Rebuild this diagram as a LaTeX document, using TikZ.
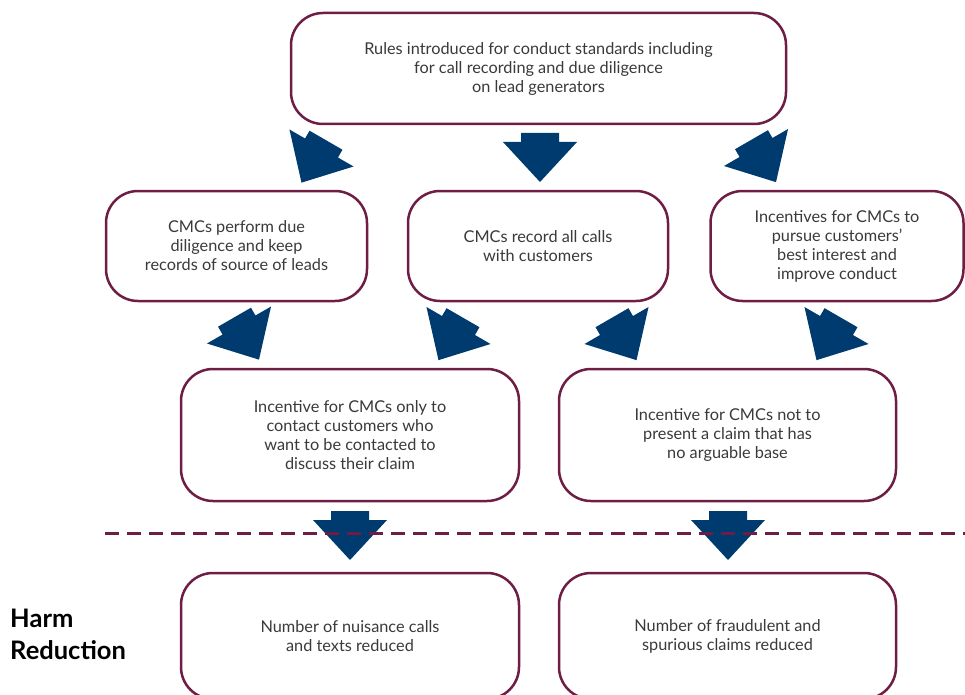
\documentclass[tikz,border=0pt]{standalone}
\usepackage{fontspec}
\setmainfont{Lato}
\definecolor{maroon}{HTML}{6E1E45}
\definecolor{navy}{HTML}{003B6F}
\definecolor{txt}{HTML}{3A3A3A}
\tikzset{
  box/.style={draw=maroon, line width=2.5pt, rounded corners=32pt, fill=white,
    align=center, text=txt, font=\fontsize{16.3}{19}\selectfont, inner sep=0pt},
  blockarrow/.pic={
    \fill[navy] (-19,-9) -- (19,-9) -- (19,0) -- (37,0) -- (0,40) -- (-37,0) -- (-19,0) -- cycle;
  }
}
\begin{document}
\begin{tikzpicture}[x=1pt,y=-1pt]
\useasboundingbox (0,0) rectangle (965,695);
\clip (0,0) rectangle (965,695);
% boxes
\node[box, minimum width=495pt, minimum height=111pt] (top) at (538.5,68.5)
  {Rules introduced for conduct standards including\\for call recording and due diligence\\on lead generators};
\node[box, minimum width=261pt, minimum height=110pt] (l2) at (236.5,246)
  {CMCs perform due\\diligence and keep\\records of source of leads};
\node[box, minimum width=260pt, minimum height=110pt] (m2) at (538,246)
  {CMCs record all calls\\with customers};
\node[box, minimum width=253pt, minimum height=110pt] (r2) at (837,246)
  {Incentives for CMCs to\\pursue customers'\\best interest and\\improve conduct};
\node[box, minimum width=338pt, minimum height=132pt] (l3) at (350,435)
  {Incentive for CMCs only to\\contact customers who\\want to be contacted to\\discuss their claim};
\node[box, minimum width=337pt, minimum height=132pt] (r3) at (727.5,435)
  {Incentive for CMCs not to\\present a claim that has\\no arguable base};
\node[box, minimum width=338pt, minimum height=126pt] (l4) at (350,636)
  {Number of nuisance calls\\and texts reduced};
\node[box, minimum width=337pt, minimum height=126pt] (r4) at (727.5,636)
  {Number of fraudulent and\\spurious claims reduced};
% label
\node[anchor=north west, align=left, font=\bfseries\fontsize{25.5}{32}\selectfont, text=black, inner sep=0pt] (harm) at (10,609)
  {Harm\\Reduction};
% block arrows
\pic at (540,142) {blockarrow};
\pic[rotate=-30] at (321.5,148) {blockarrow};
\pic[rotate=30] at (756,147.5) {blockarrow};
\pic[rotate=30] at (239,325) {blockarrow};
\pic[rotate=-30] at (458.5,325.5) {blockarrow};
\pic[rotate=30] at (616.5,325.5) {blockarrow};
\pic[rotate=-30] at (836.5,325.5) {blockarrow};
\pic at (350,520) {blockarrow};
\pic at (728,520) {blockarrow};
% harm reduction threshold
\coordinate (dl) at (105,533);
\coordinate (dr) at (965,533);
\draw[maroon, line width=3pt, dash pattern=on 13.5pt off 8.5pt] (dl) -- (dr);
\end{tikzpicture}
\end{document}
